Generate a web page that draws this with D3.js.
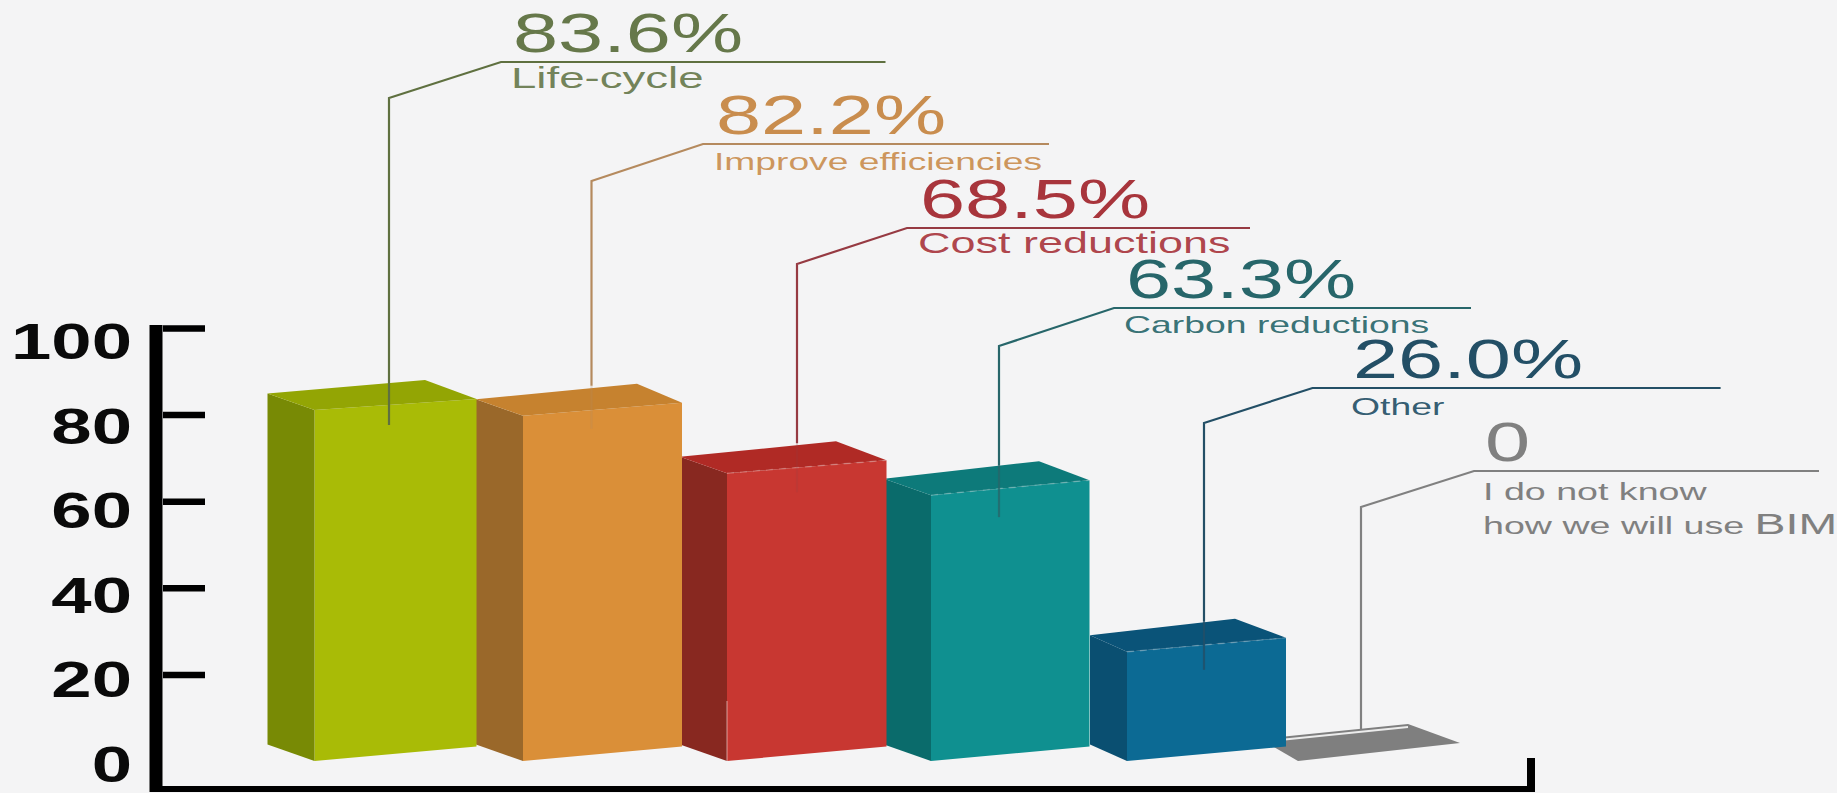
<!DOCTYPE html>
<html>
<head>
<meta charset="utf-8">
<script src="https://cdn.jsdelivr.net/npm/d3@7/dist/d3.min.js"></script>
<style>
  html, body { margin: 0; padding: 0; background: #f4f4f5; overflow: hidden; }
  svg { display: block; }
  text { font-family: "Liberation Sans", Arial, sans-serif; }
</style>
</head>
<body>
<svg id="chart" width="1837" height="793"></svg>
<script>
// Survey results: how respondents expect to use BIM
const categories = ["Life-cycle", "Improve efficiencies", "Cost reductions", "Carbon reductions", "Other", "I do not know"];
const values = [83.6, 82.2, 68.5, 63.3, 26.0, 0];
const valueLabels = ["83.6%", "82.2%", "68.5%", "63.3%", "26.0%", "0"];
const tickValues = [0, 20, 40, 60, 80, 100];

// Colours per category
const frontColors = ["#a9bb06", "#da8f38", "#c83731", "#0f9090", "#0c6a94", "#7f7f7f"];
const sideColors  = ["#788a05", "#9a682a", "#882820", "#0a6b6b", "#0a4f71", "#7f7f7f"];
const topColors   = ["#93a504", "#c6822f", "#b02a25", "#0d7a7a", "#0a5378", "#7f7f7f"];
const inkColors   = ["#66784a", "#c98d4e", "#a8353c", "#27666a", "#234f66", "#808080"];
const lineColors  = ["#5f7040", "#b58a5e", "#963a42", "#27666a", "#234f66", "#808080"];

// Layout of the bars
const barLefts    = [314.5, 523, 727, 931, 1127, 1298];
const barWidths   = [162, 159, 159.5, 158.5, 159, 162];
const depthX      = [47, 47, 47, 47, 37, 38];
const depthY      = [16.5, 16.5, 16.5, 16.5, 16.5, 22];
const backInset   = [51.5, 45, 50.5, 50.5, 51, 52];
const topRise     = [11, 13, 13, 15, 14, 18];
const BASE_RISE = 14.5, TOP_DEPTH = 19;

// Layout of the callouts
const leaderX     = [389, 591.5, 797, 999, 1204, 1361];
const leaderTopY  = [98, 181, 264, 346, 423, 507];
const elbowX      = [501, 703, 907, 1114, 1312.5, 1474];
const ruleY       = [62, 144, 228, 308, 388, 471];
const ruleEndX    = [885.5, 1049, 1250, 1471, 1720.6, 1819];
const labelX      = [511, 714, 918, 1124, 1351, 1483];
const captionY    = [88, 170, 253, 333, 415, 500];
const captionSize = [30, 24.4, 29.5, 23, 23, 23.5];
const captionWide = [1.52, 1.525, 1.525, 1.625, 1.625, 1.6];
const leaderDip   = [15, 13, 19, 22, 18, 0];
const leaderFade  = [1, 0.25, 0.2, 0.8, 0.8, 1];

const svg = d3.select("#chart");

const y = d3.scaleLinear().domain([0, 100]).range([761, 328]);          // axis ticks
const labelY = d3.scaleLinear().domain([0, 100]).range([782, 359]);     // axis tick-label baselines
const barHeight = d3.scaleLinear().domain([0, 100]).range([0, 420]);    // foreshortened bar height
const barX = d3.scaleOrdinal(categories, barLefts);
const baseline = y(0);

// Axis frame
const axisG = svg.append("g").attr("transform", "translate(163,0)");
axisG.call(d3.axisLeft(y).tickValues(tickValues.slice(1)).tickSize(-42).tickSizeOuter(0).tickFormat(""))
  .call(g => g.select(".domain").remove())
  .call(g => g.selectAll(".tick line").attr("stroke", "#000").attr("stroke-width", 6.5));

svg.append("path")
  .attr("d", d3.line()([[156, 325], [156, 789], [1531, 789], [1531, 758]]))
  .attr("fill", "none").attr("stroke", "#000").attr("stroke-width", 6);
svg.append("line").attr("x1", 156).attr("x2", 156).attr("y1", 325).attr("y2", 792)
  .attr("stroke", "#000").attr("stroke-width", 13);
svg.append("line").attr("x1", 1531).attr("x2", 1531).attr("y1", 758).attr("y2", 792)
  .attr("stroke", "#000").attr("stroke-width", 8);

// Axis labels
svg.selectAll("text.tick-label").data(tickValues).join("text")
  .attr("class", "tick-label")
  .attr("transform", d => `translate(132,${labelY(d)}) scale(1.45,1)`)
  .attr("text-anchor", "end")
  .attr("font-weight", "bold")
  .attr("font-size", 50)
  .attr("fill", "#0a0a0a")
  .text(d => d);

// Bars are drawn back to front, rightmost first, so neighbours overlap correctly
const rows = categories.map((c, i) => ({ c, i, v: values[i] })).reverse();
const poly = pts => d3.line()(pts) + "Z";

const geometry = d => {
  const i = d.i, x0 = barX(d.c), x1 = x0 + barWidths[i], top = baseline - barHeight(d.v);
  const riseBase = d.v === 0 ? topRise[i] : BASE_RISE;
  return { x0, x1, top,
    fl: [x0, top], fr: [x1, top - topRise[i]],
    bl: [x0 - depthX[i], top - depthY[i]], br: [x1 - backInset[i], top - topRise[i] - TOP_DEPTH],
    flb: [x0, baseline], frb: [x1, baseline - riseBase], blb: [x0 - depthX[i], baseline - depthY[i]] };
};

const bars = svg.selectAll("g.bar").data(rows).join("g").attr("class", "bar");
bars.append("path").attr("fill", d => frontColors[d.i])
  .attr("d", d => { const g = geometry(d); return poly([g.fl, g.fr, g.frb, g.flb]); });
bars.append("path").attr("fill", d => sideColors[d.i])
  .attr("d", d => { const g = geometry(d); return poly([g.bl, g.fl, g.flb, g.blb]); });
bars.append("path").attr("fill", d => topColors[d.i])
  .attr("d", d => { const g = geometry(d); return poly([g.bl, g.br, g.fr, g.fl]); });

// Pale dashes along the front top edge of the darker bars
bars.filter(d => d.i >= 2 && d.i <= 4).append("path")
  .attr("fill", "none").attr("stroke", "#ffffff").attr("stroke-opacity", 0.22)
  .attr("stroke-width", 1.5).attr("stroke-dasharray", "7 6")
  .attr("d", d => { const g = geometry(d); return d3.line()([g.fl, g.fr]); });

// Thin pale seam low on the red bar's front corner
bars.filter(d => d.i === 2).append("line")
  .attr("stroke", "#ffffff").attr("stroke-opacity", 0.45).attr("stroke-width", 1.2)
  .attr("x1", d => barX(d.c)).attr("x2", d => barX(d.c))
  .attr("y1", baseline - 60).attr("y2", baseline);

// The zero bar is only a slab with a white highlight inside its back edge
bars.filter(d => d.v === 0).append("path")
  .attr("fill", "none").attr("stroke", "#ececec").attr("stroke-width", 1.8)
  .attr("d", d => { const g = geometry(d);
    return d3.line()([[g.bl[0], g.bl[1] + 3], [g.br[0], g.br[1] + 3]]); });

// Callouts
const callouts = svg.selectAll("g.callout").data(rows.slice().reverse()).join("g").attr("class", "callout");

callouts.append("path")
  .attr("fill", "none").attr("stroke", d => lineColors[d.i]).attr("stroke-width", 2.2)
  .attr("d", d => {
    const i = d.i, fadeAt = geometry(d).top - 30;
    const end = leaderFade[i] < 1 ? fadeAt : geometry(d).top + leaderDip[i];
    const stop = d.v === 0 ? 730 : end;
    return d3.line()([[leaderX[i], stop], [leaderX[i], leaderTopY[i]], [elbowX[i], ruleY[i]], [ruleEndX[i], ruleY[i]]]);
  });

callouts.filter(d => leaderFade[d.i] < 1).append("line")
  .attr("stroke", d => lineColors[d.i]).attr("stroke-width", 2.2)
  .attr("stroke-opacity", d => leaderFade[d.i])
  .attr("x1", d => leaderX[d.i]).attr("x2", d => leaderX[d.i])
  .attr("y1", d => geometry(d).top - 30)
  .attr("y2", d => geometry(d).top + leaderDip[d.i]);

callouts.append("text")
  .attr("transform", d => `translate(${labelX[d.i] + 2},${ruleY[d.i] - 10}) scale(1.475,1)`)
  .attr("font-size", 55)
  .attr("fill", d => inkColors[d.i])
  .text(d => valueLabels[d.i]);

callouts.filter(d => d.v > 0).append("text")
  .attr("transform", d => `translate(${labelX[d.i]},${captionY[d.i]}) scale(${captionWide[d.i]},1)`)
  .attr("font-size", d => captionSize[d.i])
  .attr("fill", d => inkColors[d.i])
  .attr("fill-opacity", 0.92)
  .text(d => d.c);

// Two-line caption of the last category, with its larger acronym
const lastX = labelX[5], lastWide = captionWide[5], lastSize = captionSize[5];
svg.append("text")
  .attr("transform", `translate(${lastX},${captionY[5]}) scale(${lastWide},1)`)
  .attr("font-size", lastSize).attr("fill", inkColors[5])
  .text(categories[5]);
const second = svg.append("text")
  .attr("transform", `translate(${lastX},534) scale(${lastWide},1)`)
  .attr("font-size", lastSize).attr("fill", inkColors[5]);
second.append("tspan").text("how we will use ");
second.append("tspan").attr("font-size", 29).text("BIM");
</script>
</body>
</html>
